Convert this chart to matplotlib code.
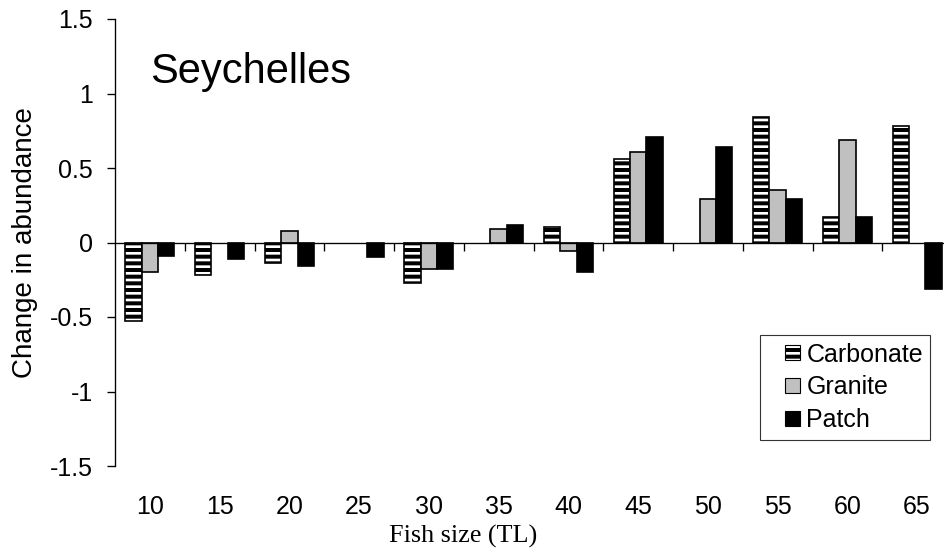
import numpy as np
import matplotlib
matplotlib.use("Agg")
import matplotlib.pyplot as plt
from matplotlib.patches import Rectangle
from matplotlib.legend_handler import HandlerPatch

# data (NaN = no bar drawn)
sizes = ['10', '15', '20', '25', '30', '35', '40', '45', '50', '55', '60', '65']
carbonate = [-0.53, -0.22, -0.14, np.nan, -0.27, np.nan, 0.105, 0.56, np.nan, 0.845, 0.17, 0.78]
granite = [-0.20, np.nan, 0.08, np.nan, -0.18, 0.09, -0.06, 0.61, 0.29, 0.35, 0.69, np.nan]
patch = [-0.09, -0.11, -0.16, -0.10, -0.18, 0.12, -0.20, 0.71, 0.64, 0.295, 0.17, -0.31]

series_names = ['Carbonate', 'Granite', 'Patch']

DPI = 80
W, H = 944, 557
plt.rcParams['hatch.linewidth'] = 3.6
plt.rcParams['font.family'] = ['Liberation Sans', 'DejaVu Sans']

fig = plt.figure(figsize=(W / DPI, H / DPI), dpi=DPI)
# axes box in pixels: left 115, right 952 (cropped by image edge), top 19, bottom 466
ax = fig.add_axes([115 / W, (H - 466) / H, 837 / W, 447 / H])

x = np.arange(len(sizes))
bw = 0.235
bar_lw = 1.5
styles = [dict(facecolor='white', edgecolor='black', hatch='--'),
          dict(facecolor='#c0c0c0', edgecolor='black'),
          dict(facecolor='black', edgecolor='black')]
ax.bar(x - bw, carbonate, bw, linewidth=bar_lw, **styles[0])
ax.bar(x, granite, bw, linewidth=bar_lw, **styles[1])
ax.bar(x + bw, patch, bw, linewidth=bar_lw, **styles[2])

ax.set_xlim(-0.5, len(sizes) - 0.5)
ax.set_ylim(-1.5, 1.5)

# spines: only left and a zero line
ax.spines['top'].set_visible(False)
ax.spines['right'].set_visible(False)
ax.spines['bottom'].set_position(('data', 0))
ax.spines['left'].set_linewidth(1.2)
ax.spines['bottom'].set_linewidth(1.2)

ax.set_yticks([-1.5, -1, -0.5, 0, 0.5, 1, 1.5])
ax.set_yticklabels(['-1.5', '-1', '-0.5', '0', '0.5', '1', '1.5'])
ax.tick_params(axis='y', direction='out', length=7, width=1.2, pad=13, labelsize=22.5)

# ticks between groups on the zero line, labels at the bottom
ax.set_xticks(np.arange(0.5, len(sizes) - 0.5, 1.0))
ax.tick_params(axis='x', direction='out', length=7, width=1.2, labelbottom=False)
for i, s in enumerate(sizes):
    ax.text(x[i], -1.5 - 41 / 149.0, s, ha='center', va='center', fontsize=22.5)

fig.text(463 / W, 1 - 536 / H, 'Fish size (TL)', ha='center', va='center',
         fontsize=23.5, family=['Liberation Serif', 'DejaVu Serif'])
fig.text(25 / W, 1 - 243 / H, 'Change in abundance', rotation=90, ha='center', va='center',
         fontsize=25)
fig.text(150 / W, 1 - 83 / H, 'Seychelles', ha='left', va='baseline', fontsize=37.5)


def small_square(legend, orig_handle, xdescent, ydescent, width, height, fontsize):
    side = height
    return Rectangle((width - side - xdescent, -ydescent), side, side)


proxies = [Rectangle((0, 0), 1, 1, linewidth=1.0, **st) for st in styles]
leg = ax.legend(handles=proxies, labels=series_names,
                loc='upper left', bbox_to_anchor=(760 / W, 1 - 335 / H),
                bbox_transform=fig.transFigure, fontsize=22.5,
                frameon=True, fancybox=False, framealpha=1, edgecolor='#333333',
                borderpad=0.3, borderaxespad=0, handlelength=1.3, handleheight=0.55,
                handletextpad=0.25, labelspacing=0.35,
                handler_map={Rectangle: HandlerPatch(patch_func=small_square)})
leg.get_frame().set_linewidth(1.0)

fig.savefig('out.png', dpi=DPI)
